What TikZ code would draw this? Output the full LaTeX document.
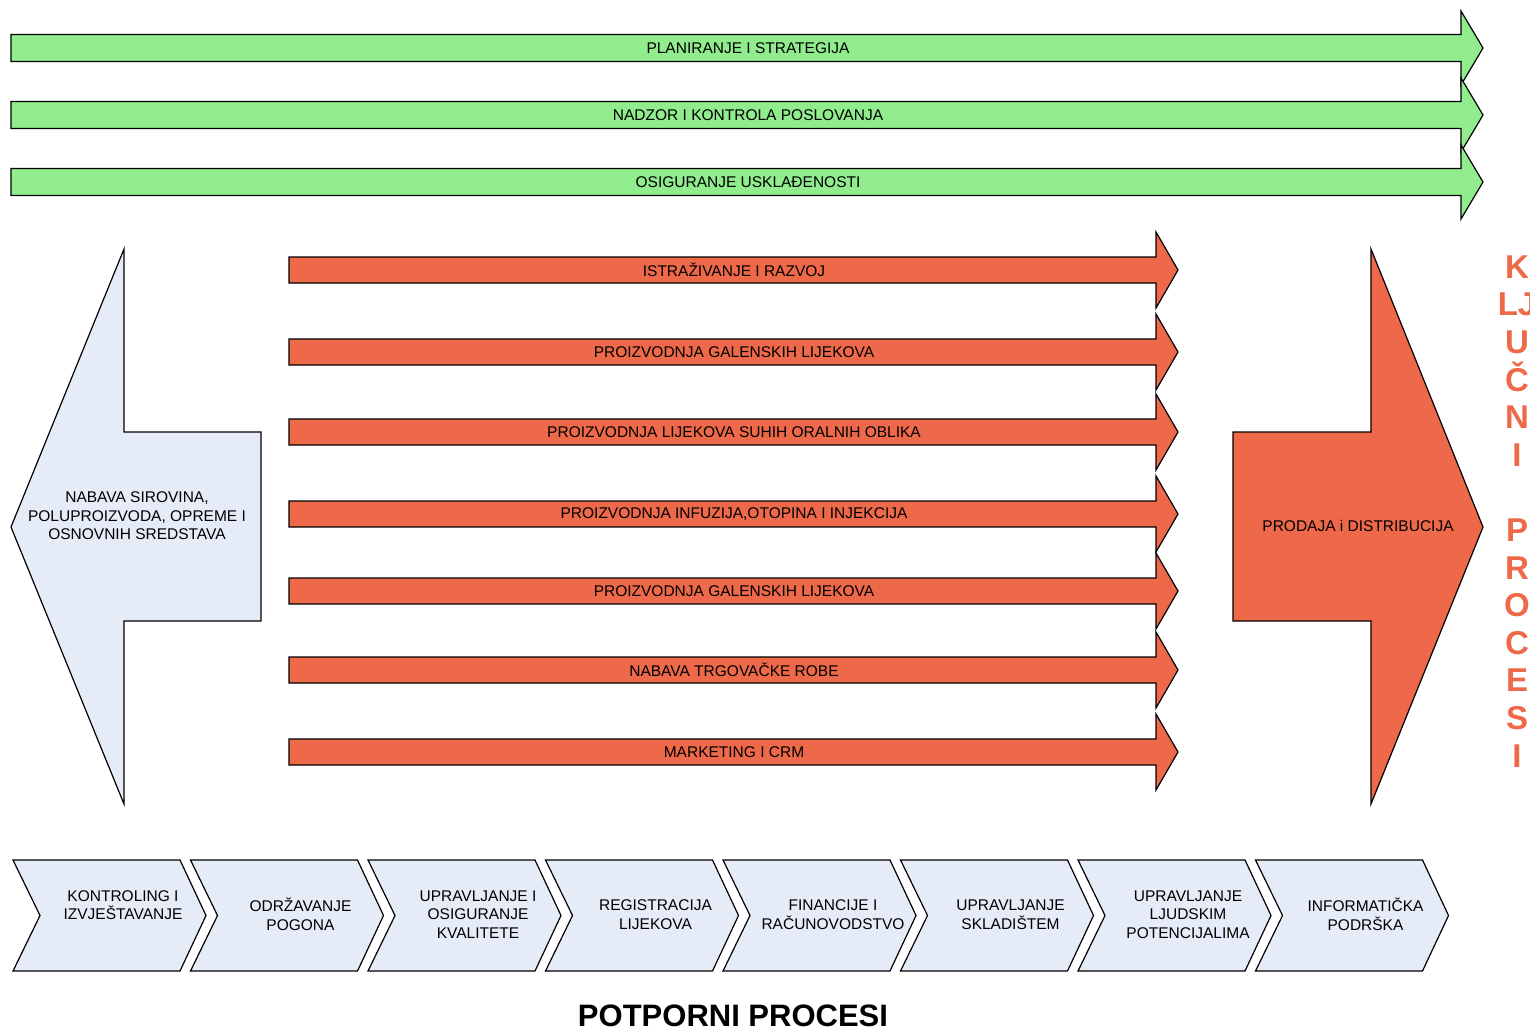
\documentclass[tikz,border=0pt]{standalone}
\usepackage{fontspec}
\setmainfont{Liberation Sans}
\usetikzlibrary{positioning}
\definecolor{zelena}{RGB}{144,236,140}
\definecolor{crvena}{RGB}{238,104,74}
\definecolor{plava}{RGB}{230,236,247}

\begin{document}
\begin{tikzpicture}[x=1pt,y=-1pt,line width=1.2pt,line join=miter,
  lbl/.style={font=\fontsize{15.5}{18.5}\selectfont,align=center,inner sep=0pt},
  naslov/.style={font=\fontsize{31}{36}\selectfont\bfseries,inner sep=0pt}]
\useasboundingbox (0,0) rectangle (1530,1031);
\foreach \y/\nm/\txt in {48/plan/{PLANIRANJE I STRATEGIJA},115/nadzor/{NADZOR I KONTROLA POSLOVANJA},182/usklad/{OSIGURANJE USKLAĐENOSTI}} % edit here for the green arrows
{\draw[fill=zelena] (11,\y-13.5) -- (1461,\y-13.5) -- (1461,\y-37) -- (1483,\y) -- (1461,\y+37) -- (1461,\y+13.5) -- (11,\y+13.5) -- cycle;
\node[lbl] (\nm) at (748,\y) {\txt};}
\foreach \y/\nm/\txt in {270/istr/{ISTRAŽIVANJE I RAZVOJ},352/galen/{PROIZVODNJA GALENSKIH LIJEKOVA},432/suhi/{PROIZVODNJA LIJEKOVA SUHIH ORALNIH OBLIKA},514/infuz/{PROIZVODNJA INFUZIJA,OTOPINA I INJEKCIJA},591/galenb/{PROIZVODNJA GALENSKIH LIJEKOVA},670/trgov/{NABAVA TRGOVAČKE ROBE},752/mark/{MARKETING I CRM}} % edit here for the red arrows
{\draw[fill=crvena] (289,\y-13) -- (1156,\y-13) -- (1156,\y-38) -- (1178,\y) -- (1156,\y+38) -- (1156,\y+13) -- (289,\y+13) -- cycle;
\node[lbl] (\nm) at (734,\y) {\txt};}
\draw[fill=plava] (11,527) -- (124,249) -- (124,432) -- (261,432) -- (261,621) -- (124,621) -- (124,804) -- cycle;
\node[lbl] (nabava) at (137,516) {NABAVA SIROVINA,\\POLUPROIZVODA, OPREME I\\OSNOVNIH SREDSTAVA};
\draw[fill=crvena] (1233,432) -- (1371,432) -- (1371,249) -- (1483,527) -- (1371,804) -- (1371,621) -- (1233,621) -- cycle;
\node[lbl] (prodaja) at (1358,526) {PRODAJA i DISTRIBUCIJA};
\node[naslov,text=crvena,align=center,font=\fontsize{33}{37.6}\selectfont\bfseries,anchor=north] (kljucni) at (1517,255)
{K\\LJ\\U\\Č\\N\\I\\[37.6pt]P\\R\\O\\C\\E\\S\\I};
\foreach \x/\ty/\nm/\txt in {13/905/kontr/{KONTROLING I\\IZVJEŠTAVANJE},190.5/914.5/odrz/{ODRŽAVANJE\\POGONA},368/914.5/kval/{UPRAVLJANJE I\\OSIGURANJE\\KVALITETE},545.5/914.5/regis/{REGISTRACIJA\\LIJEKOVA},723/914.5/finan/{FINANCIJE I\\RAČUNOVODSTVO},900.5/914.5/sklad/{UPRAVLJANJE\\SKLADIŠTEM},1078/914.5/ljud/{UPRAVLJANJE\\LJUDSKIM\\POTENCIJALIMA},1255.5/914.5/inform/{INFORMATIČKA\\PODRŠKA}} % edit here for the chevrons
{\draw[fill=plava] (\x,860) -- (\x+167,860) -- (\x+193,915.5) -- (\x+167,971) -- (\x,971) -- (\x+27,915.5) -- cycle;
\node[lbl] (\nm) at (\x+110,\ty) {\txt};}
\node[naslov] (potporni) at (733,1016) {POTPORNI PROCESI};
\end{tikzpicture}
\end{document}
